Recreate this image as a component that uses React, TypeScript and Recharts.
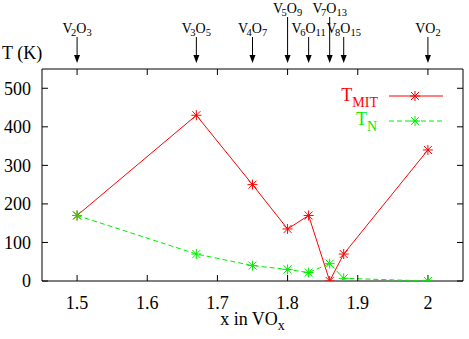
import React from "react";
import { LineChart, Line, XAxis, YAxis, ReferenceArea, ReferenceDot, Legend, Label } from "recharts";

const FONT = "'Liberation Serif', 'Times New Roman', serif";
const RED = "#ff0000";
const GREEN = "#00ee00";

// x in VO_x of each vanadium oxide phase, with the measured temperatures
const oxideX = [1.5, 1.67, 1.75, 1.8, 1.83, 1.86, 1.88, 2];
const oxideNames = ["V2O3", "V3O5", "V4O7", "V5O9", "V6O11", "V7O13", "V8O15", "VO2"];
const raisedNames = ["V5O9", "V7O13"];
const tMIT = [170, 430, 250, 135, 170, 0, 70, 340];
const tN = [170, 70, 40, 30, 22, 45, 7, 0];

const xTicks = [1.5, 1.6, 1.7, 1.8, 1.9, 2];
const yTicks = [0, 100, 200, 300, 400, 500];
const xDomain = [1.45, 2.05];
const yDomain = [0, 550];

const data = oxideX.map((x, i) => ({ x, mit: tMIT[i], n: tN[i] }));

// "V2O3" -> V, sub 2, O, sub 3
function formulaSpans(name: string, size: number, shift: number) {
  const parts = name.match(/[A-Z][a-z]?|\d+/g) ?? [];
  let down = false;
  let prev = "";
  return parts.map((p, i) => {
    const isNum = /\d/.test(p);
    const dy = isNum && !down ? shift : !isNum && down ? -shift : 0;
    const dx = isNum && prev === "V" ? -1.5 : 0;
    down = isNum;
    prev = p;
    return (
      <tspan key={i} dx={dx} dy={dy} fontSize={isNum ? size * 0.75 : size}>
        {p}
      </tspan>
    );
  });
}

function Star({ cx, cy, color }: { cx: number; cy: number; color: string }) {
  const r = 5;
  const d = 4;
  return (
    <g stroke={color} strokeWidth={1}>
      <line x1={cx - r} y1={cy} x2={cx + r} y2={cy} />
      <line x1={cx} y1={cy - r} x2={cx} y2={cy + r} />
      <line x1={cx - d} y1={cy - d} x2={cx + d} y2={cy + d} />
      <line x1={cx - d} y1={cy + d} x2={cx + d} y2={cy - d} />
    </g>
  );
}

const starDot = (color: string) => (props: any) => {
  const { cx, cy, index } = props;
  if (cx == null || cy == null) return <g key={`e-${index}`} />;
  return (
    <g key={`s-${color}-${index}`}>
      <Star cx={cx} cy={cy} color={color} />
    </g>
  );
};

// inward tick marks on the top and right sides of the frame
const TopTick = (p: any) => <line x1={p.cx} x2={p.cx} y1={p.cy} y2={p.cy + 6} stroke="#000" />;
const RightTick = (p: any) => <line x1={p.cx} x2={p.cx - 6} y1={p.cy} y2={p.cy} stroke="#000" />;

function OxideTick(props: any) {
  const { x, payload } = props;
  const i = oxideX.indexOf(payload.value);
  const name = oxideNames[i];
  if (!name) return null;
  const base = raisedNames.includes(name) ? 13 : 33;
  return (
    <g>
      <text x={x} y={base} textAnchor="middle" fontFamily={FONT} fontSize={14} fill="#000">
        {formulaSpans(name, 14, 3)}
      </text>
      <line x1={x} x2={x} y1={base + 4} y2={56} stroke="#000" />
      <path d={`M${x - 3},55 L${x + 3},55 L${x},63 Z`} fill="#000" stroke="none" />
    </g>
  );
}

function LegendBox() {
  return (
    <svg width={130} height={50} style={{ overflow: "visible" }}>
      <text x={48} y={19} textAnchor="end" fontFamily={FONT} fontSize={18} fill={RED}>
        T<tspan dy={6} fontSize={14}>MIT</tspan>
      </text>
      <line x1={59} x2={113} y1={14} y2={14} stroke={RED} />
      <Star cx={85} cy={14} color={RED} />
      <text x={47} y={43} textAnchor="end" fontFamily={FONT} fontSize={18} fill={GREEN}>
        T<tspan dy={6} fontSize={14}>N</tspan>
      </text>
      <line x1={59} x2={113} y1={39} y2={39} stroke={GREEN} strokeDasharray="5 3" />
      <Star cx={85} cy={39} color={GREEN} />
    </svg>
  );
}

const tickFont = { fill: "#000", fontSize: 18, fontFamily: FONT };

export default function App() {
  return (
    <div style={{ position: "absolute", left: 0, top: 0, width: 469, height: 339, background: "#fff" }}>
      <LineChart width={469} height={339} data={data} margin={{ top: 0, right: 6, bottom: 0, left: 0 }}>
        <XAxis
          xAxisId="oxides"
          dataKey="x"
          orientation="top"
          type="number"
          domain={xDomain}
          ticks={oxideX}
          interval={0}
          height={69}
          axisLine={false}
          tickLine={false}
          tick={<OxideTick />}
          allowDataOverflow
        />
        <XAxis
          xAxisId="main"
          dataKey="x"
          type="number"
          domain={xDomain}
          ticks={xTicks}
          interval={0}
          height={58}
          axisLine={false}
          tickLine={{ stroke: "#000" }}
          tickSize={-6}
          tickMargin={21}
          tick={tickFont}
          tickFormatter={(v: number) => (v === 2 ? "2" : v.toFixed(1))}
          allowDataOverflow
        >
          <Label
            content={(p: any) => {
              const vb = p.viewBox;
              return (
                <text x={vb.x + vb.width / 2} y={vb.y + 44} textAnchor="middle" fontFamily={FONT} fontSize={18} fill="#000">
                  x in VO<tspan dy={5} fontSize={14}>x</tspan>
                </text>
              );
            }}
          />
        </XAxis>
        <YAxis
          yAxisId="main"
          type="number"
          domain={yDomain}
          ticks={yTicks}
          interval={0}
          width={42}
          axisLine={false}
          tickLine={{ stroke: "#000" }}
          tickSize={-6}
          tickMargin={17}
          tick={tickFont}
          allowDataOverflow
        >
          <Label
            content={(p: any) => {
              const vb = p.viewBox;
              return (
                <text x={vb.x + 2} y={vb.y - 10} fontFamily={FONT} fontSize={18} fill="#000">
                  T (K)
                </text>
              );
            }}
          />
        </YAxis>
        <ReferenceArea
          xAxisId="main"
          yAxisId="main"
          x1={xDomain[0]}
          x2={xDomain[1]}
          y1={yDomain[0]}
          y2={yDomain[1]}
          fill="none"
          stroke="#000"
          strokeWidth={1}
          ifOverflow="visible"
        />
        {xTicks.map((t) => (
          <ReferenceDot key={`tt-${t}`} xAxisId="main" yAxisId="main" x={t} y={yDomain[1]} shape={TopTick} ifOverflow="visible" />
        ))}
        {yTicks.map((t) => (
          <ReferenceDot key={`rt-${t}`} xAxisId="main" yAxisId="main" x={xDomain[1]} y={t} shape={RightTick} ifOverflow="visible" />
        ))}
        <Line
          xAxisId="main"
          yAxisId="main"
          dataKey="mit"
          stroke={RED}
          strokeWidth={1}
          dot={starDot(RED)}
          activeDot={false}
          isAnimationActive={false}
        />
        <Line
          xAxisId="main"
          yAxisId="main"
          dataKey="n"
          stroke={GREEN}
          strokeWidth={1}
          strokeDasharray="5 3"
          dot={starDot(GREEN)}
          activeDot={false}
          isAnimationActive={false}
        />
        <Legend
          layout="horizontal"
          verticalAlign="middle"
          align="center"
          content={() => <LegendBox />}
          wrapperStyle={{ left: 330, top: 82, width: 130, height: 50 }}
        />
      </LineChart>
    </div>
  );
}
